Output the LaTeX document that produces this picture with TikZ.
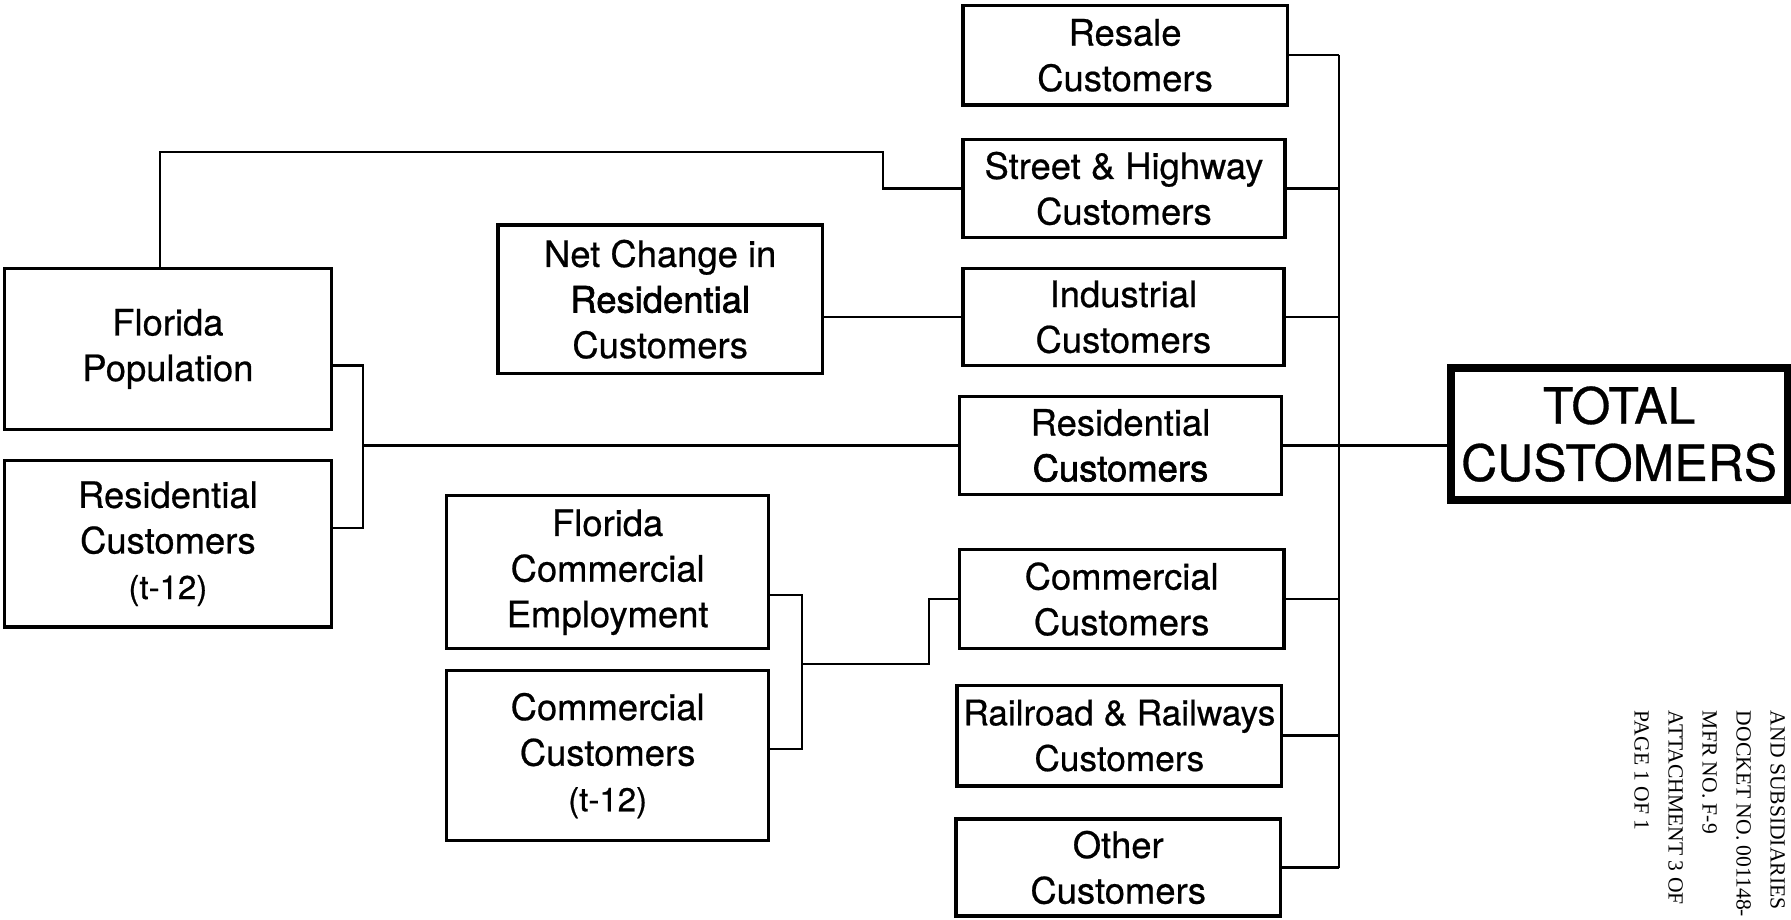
\documentclass[tikz,border=0pt]{standalone}
\usepackage{fontspec}
\setmainfont{TeX Gyre Heros}[FakeBold=0.6]
\newfontfamily\notefont{Liberation Serif}
\newfontfamily\heavyface{TeX Gyre Heros}[FakeBold=1.8]
\begin{document}
\begin{tikzpicture}[x=0.5711pt,y=-0.5711pt,
  sz/.style 2 args={minimum width=#1*0.5711pt, minimum height=#2*0.5711pt},
  box/.style={draw, line width=1.7pt, inner sep=0pt, align=center,
              font=\fontsize{18.2}{22.8}\selectfont},
  bigbox/.style={draw, line width=4pt, inner sep=0pt, align=center,
              font=\fontsize{25}{28.6}\selectfont},
  wire/.style={line width=1.1pt}]
\useasboundingbox (0,0) rectangle (1568,805);

% customer classes (right column)
\node[box, sz={284}{87}] (resale) at (985,48.5) {Resale\\Customers};
\node[box, sz={282}{86}] (street) at (984,165) {Street \& Highway\\Customers};
\node[box, sz={281}{85}] (indus)  at (983.5,277.5) {Industrial\\Customers};
\node[box, sz={282}{86}] (resid)  at (981,390) {Residential\\{\heavyface Customers}};
\node[box, sz={284}{87}] (comm)   at (982,524.5) {Commercial\\Customers};
\node[box, sz={284}{88}, font=\fontsize{17.6}{22.8}\selectfont] (rail) at (980,644) {Railroad \& Railways\\Customers};
\node[box, sz={284}{85}] (other)  at (979,759.5) {Other\\Customers};

% total
\node[bigbox, sz={295}{116}] (total) at (1417.5,380) {TOTAL\\CUSTOMERS};

% drivers
\node[box, sz={286}{141}] (fpop)   at (147,305.5) {Florida\\Population};
\node[box, sz={286}{146}] (rest12) at (147,476) {Residential\\Customers\\{\fontsize{16.5}{16}\selectfont (t-12)}};
\node[box, sz={284}{130}] (net)    at (578,262) {Net Change in\\{\heavyface Residential}\\Customers};
\node[box, sz={282}{134}] (fce)    at (532,501) {Florida\\Commercial\\Employment};
\node[box, sz={282}{149}] (cc12)   at (532,661.5) {Commercial\\Customers\\{\fontsize{16.5}{16}\selectfont (t-12)}};

% junction points
\coordinate (fpB)  at (318,320);
\coordinate (rtB)  at (318,462);
\coordinate (resJ) at (318,390);
\coordinate (up1)  at (140,133);
\coordinate (up2)  at (773,133);
\coordinate (fceB) at (702,521);
\coordinate (ccB)  at (702,656);
\coordinate (cJ)   at (702,581);
\coordinate (cUp)  at (813,581);
\coordinate (bus)  at (1172,0);

% residential drivers
\draw[wire] (fpop.east |- fpB) -- (fpB) -- (rtB) -- (rest12.east |- rtB);
\draw[wire] (resJ) -- (resid.west);
\draw[wire] (fpop.north -| up1) -- (up1) -- (up2) |- (street.west);
\draw[wire] (net.east |- indus.west) -- (indus.west);

% commercial drivers
\draw[wire] (fce.east |- fceB) -- (fceB) -- (ccB) -- (cc12.east |- ccB);
\draw[wire] (cJ) -- (cUp) |- (comm.west);

% summation bus
\draw[wire] (resale.east -| bus) -- (other.east -| bus);
\foreach \n in {resale,street,indus,resid,comm,rail,other}
  \draw[wire] (\n.east) -- (\n.east -| bus);
\draw[wire] (resid.east -| bus) -- (total.west |- resid.east);

% filing reference
\node[rotate=-90, anchor=north west, align=left, inner sep=0pt,
      font=\notefont\fontsize{10.8}{17}\selectfont] (note) at (1563,622)
  {AND SUBSIDIARIES\\DOCKET NO. 001148-\\MFR NO. F-9\\ATTACHMENT 3 OF\\PAGE 1 OF 1};
\end{tikzpicture}
\end{document}
